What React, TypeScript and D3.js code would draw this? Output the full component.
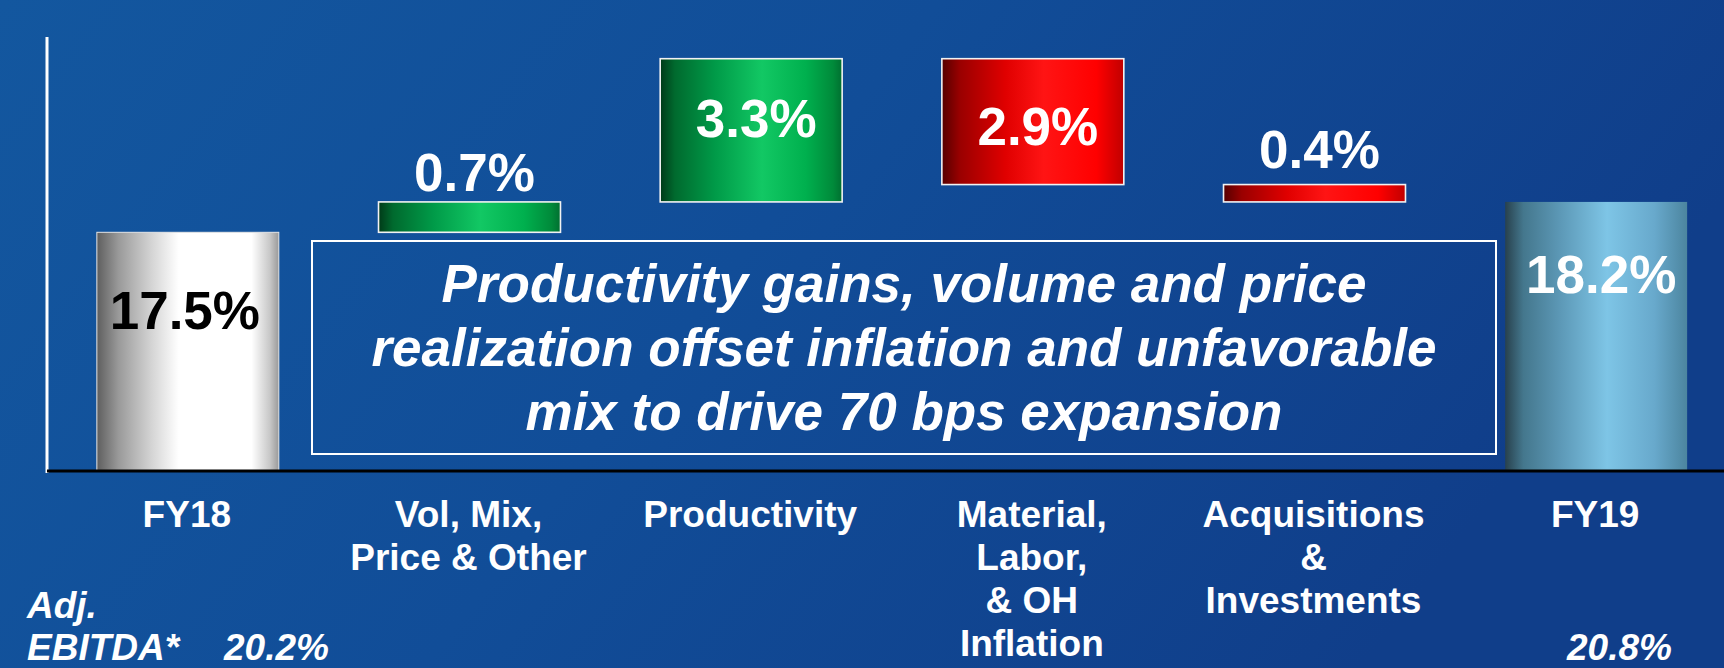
import React from "react";
import * as d3 from "d3";

// ---- Data ----
const categories = ["FY18", "VolMix", "Productivity", "Material", "Acquisitions", "FY19"];
const categoryLines: string[][] = [
  ["FY18"],
  ["Vol, Mix,", "Price & Other"],
  ["Productivity"],
  ["Material,", "Labor,", "& OH", "Inflation"],
  ["Acquisitions", "&", "Investments"],
  ["FY19"],
];
const values = [17.5, 0.7, 3.3, -2.9, -0.4, 18.2];
const kinds = ["total", "inc", "inc", "dec", "dec", "total"];
const valueLabels = ["17.5%", "0.7%", "3.3%", "2.9%", "0.4%", "18.2%"];
const yDomain = [12, 22];
const calloutLines = [
  "Productivity gains, volume and price",
  "realization offset inflation and unfavorable",
  "mix to drive 70 bps expansion",
];
const ebitdaLabel = ["Adj.", "EBITDA*"];
const ebitdaValues = ["20.2%", "20.8%"];

// ---- Layout / style ----
const W = 1724;
const H = 668;
const FONT = "'Liberation Sans', Arial, Helvetica, sans-serif";
const labelOffset = [97, -11, 78, 86, -17, 91];
const labelColor = ["#000", "#fff", "#fff", "#fff", "#fff", "#fff"];

export default function App() {
  const x = d3
    .scaleBand<string>()
    .domain(categories)
    .range([47, 1737])
    .paddingInner(0.354)
    .paddingOuter(0.177);
  const y = d3.scaleLinear().domain(yDomain).range([471, 37]);

  // waterfall computation
  let running = 0;
  const bars = values.map((v, i) => {
    let lo: number, hi: number;
    if (kinds[i] === "total") {
      lo = yDomain[0];
      hi = v;
      running = v;
    } else {
      const start = running;
      const end = running + v;
      lo = Math.min(start, end);
      hi = Math.max(start, end);
      running = end;
    }
    return { cat: categories[i], lo, hi, kind: kinds[i], i };
  });

  const gradId = (b: { kind: string; i: number }) =>
    b.kind === "total" ? (b.i === 0 ? "gWhite" : "gSteel") : b.kind === "inc" ? "gGreen" : "gRed";

  return (
    <svg
      width={W}
      height={H}
      style={{ position: "absolute", left: 0, top: 0, display: "block" }}
      fontFamily={FONT}
    >
      <defs>
        <linearGradient id="bg" x1="0" y1="0" x2="1" y2="0.3">
          <stop offset="0" stopColor="#13579f" />
          <stop offset="0.5" stopColor="#114d98" />
          <stop offset="1" stopColor="#103e8a" />
        </linearGradient>
        <linearGradient id="gWhite" x1="0" y1="0" x2="1" y2="0">
          <stop offset="0" stopColor="#5e5e5e" />
          <stop offset="0.12" stopColor="#9a9a9a" />
          <stop offset="0.3" stopColor="#d4d4d4" />
          <stop offset="0.45" stopColor="#ffffff" />
          <stop offset="0.85" stopColor="#ffffff" />
          <stop offset="0.95" stopColor="#c8c8c8" />
          <stop offset="1" stopColor="#9a9a9a" />
        </linearGradient>
        <linearGradient id="gGreen" x1="0" y1="0" x2="1" y2="0">
          <stop offset="0" stopColor="#003a18" />
          <stop offset="0.08" stopColor="#006a2e" />
          <stop offset="0.3" stopColor="#009a48" />
          <stop offset="0.56" stopColor="#12c864" />
          <stop offset="0.8" stopColor="#00b04e" />
          <stop offset="0.95" stopColor="#008a3a" />
          <stop offset="1" stopColor="#006f30" />
        </linearGradient>
        <linearGradient id="gRed" x1="0" y1="0" x2="1" y2="0">
          <stop offset="0" stopColor="#550000" />
          <stop offset="0.1" stopColor="#9a0000" />
          <stop offset="0.35" stopColor="#e00000" />
          <stop offset="0.56" stopColor="#ff1414" />
          <stop offset="0.85" stopColor="#ff0000" />
          <stop offset="1" stopColor="#c00000" />
        </linearGradient>
        <linearGradient id="gSteel" x1="0" y1="0" x2="1" y2="0">
          <stop offset="0" stopColor="#28414d" />
          <stop offset="0.1" stopColor="#44778d" />
          <stop offset="0.3" stopColor="#5c98b6" />
          <stop offset="0.56" stopColor="#7ec5e6" />
          <stop offset="0.82" stopColor="#68a9cc" />
          <stop offset="1" stopColor="#4c859f" />
        </linearGradient>
      </defs>

      <rect x={0} y={0} width={W} height={H} fill="url(#bg)" />

      {/* bars */}
      {bars.map((b) => {
        const top = y(b.hi);
        const bottom = y(b.lo);
        const isTotal = b.kind === "total";
        return (
          <rect
            key={b.cat}
            x={x(b.cat)!}
            y={top}
            width={x.bandwidth()}
            height={bottom - top}
            fill={`url(#${gradId(b)})`}
            stroke={isTotal ? (b.i === 0 ? "#e6e6e6" : "none") : "#f2f2f2"}
            strokeWidth={isTotal ? 1 : 1.6}
          />
        );
      })}

      {/* axes */}
      <line x1={47} x2={47} y1={y(yDomain[1])} y2={473} stroke="#ffffff" strokeWidth={3} />
      <line x1={47} x2={W} y1={y(yDomain[0])} y2={y(yDomain[0])} stroke="#000000" strokeWidth={3} />

      {/* value labels */}
      {bars.map((b) => {
        const top = y(b.hi);
        const cx = x(b.cat)! + x.bandwidth() / 2;
        return (
          <text
            key={"v" + b.cat}
            x={cx + (b.i === 0 ? -3 : 5)}
            y={top + labelOffset[b.i]}
            textAnchor="middle"
            fontWeight="bold"
            fontSize={53}
            fill={labelColor[b.i]}
          >
            {valueLabels[b.i]}
          </text>
        );
      })}

      {/* callout box */}
      <rect x={312} y={241} width={1184} height={213} fill="none" stroke="#ffffff" strokeWidth={2} />
      {calloutLines.map((t, i) => (
        <text
          key={"c" + i}
          x={904}
          y={302 + i * 64}
          textAnchor="middle"
          fontWeight="bold"
          fontStyle="italic"
          fontSize={53}
          fill="#ffffff"
        >
          {t}
        </text>
      ))}

      {/* category labels */}
      {categories.map((c, i) => (
        <text
          key={"k" + c}
          x={x(c)! + x.bandwidth() / 2}
          textAnchor="middle"
          fontWeight="bold"
          fontSize={37}
          fill="#ffffff"
        >
          {categoryLines[i].map((ln, j) => (
            <tspan key={j} x={x(c)! + x.bandwidth() / 2 - 1} y={527 + j * 43}>
              {ln}
            </tspan>
          ))}
        </text>
      ))}

      {/* EBITDA footnote */}
      <g fontWeight="bold" fontStyle="italic" fontSize={37} fill="#ffffff">
        <text x={27} y={618}>{ebitdaLabel[0]}</text>
        <text x={27} y={660}>{ebitdaLabel[1]}</text>
        <text x={224} y={660}>{ebitdaValues[0]}</text>
        <text x={1567} y={660}>{ebitdaValues[1]}</text>
      </g>
    </svg>
  );
}
